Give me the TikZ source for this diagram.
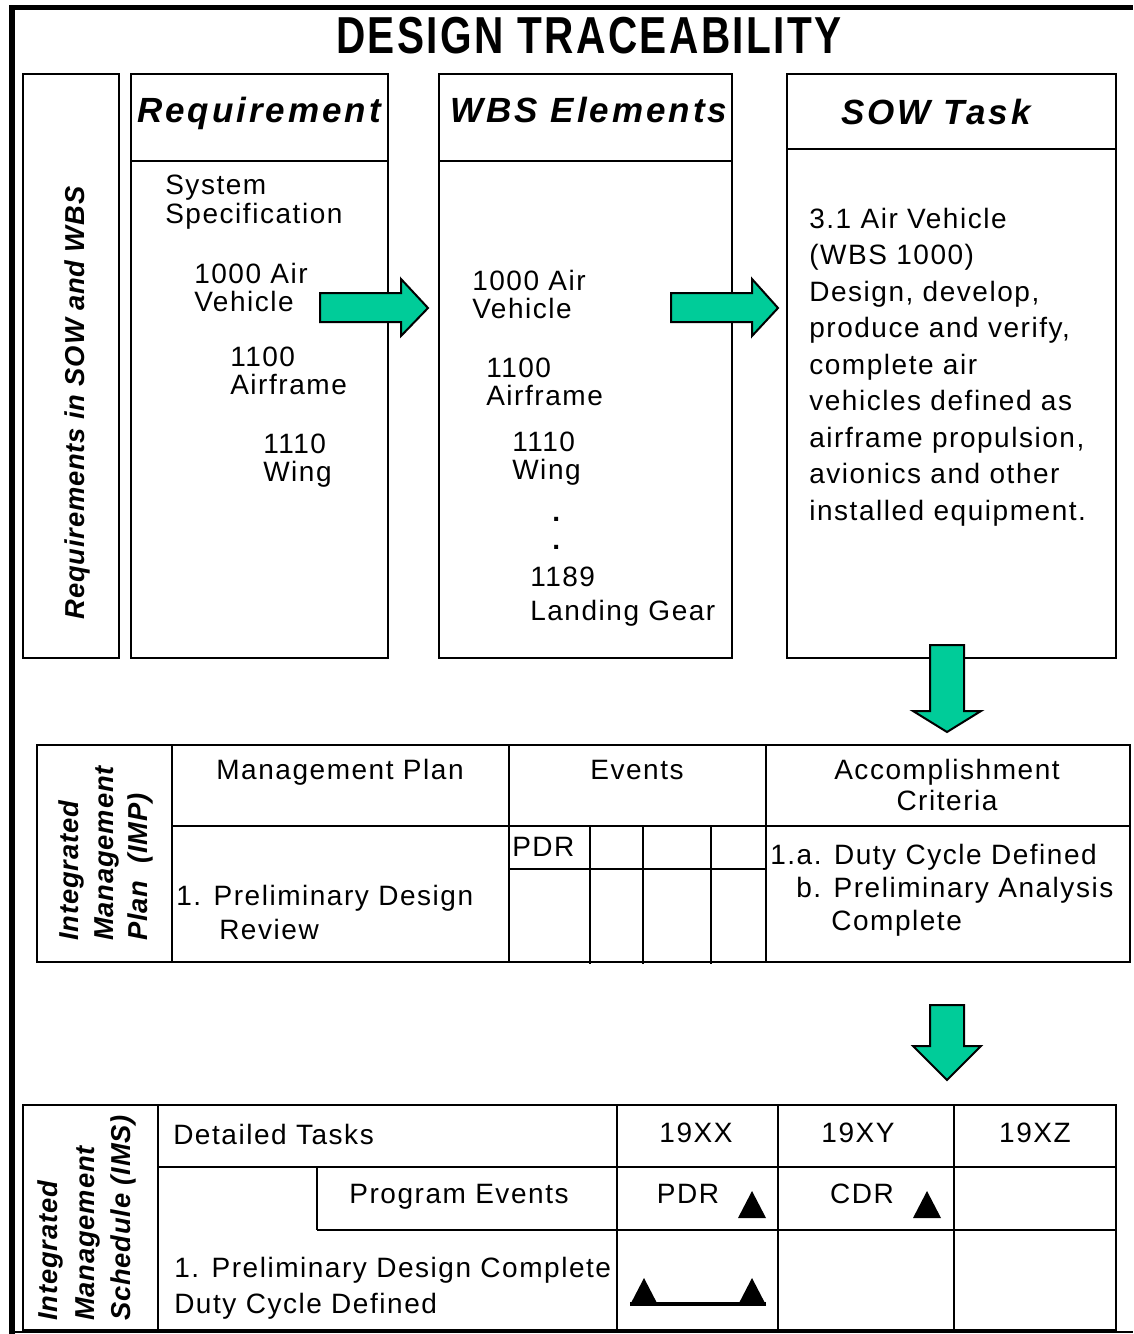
\documentclass[tikz,border=0pt]{standalone}
\usepackage{fontspec}
\usepackage{graphicx}
\setmainfont{Liberation Sans}
\newfontfamily\bodyf[LetterSpace=5.5]{Liberation Sans}
\newfontfamily\headf[LetterSpace=8.5]{Liberation Sans}
\newfontfamily\labf[LetterSpace=3]{Liberation Sans}
\newfontfamily\titlef[LetterSpace=6]{Liberation Sans}
\definecolor{arrgreen}{RGB}{0,204,153}
\begin{document}
\begin{tikzpicture}[x=0.75pt,y=-0.75pt,
  cell/.style={draw,line width=1.2pt},
  thickrow/.style={line width=2.2pt},
  blockarrow/.style={draw,fill=arrgreen,line width=1.5pt,line join=miter},
  milestone/.style={fill=black},
  txt/.style={font=\bodyf\fontsize{21}{25}\selectfont,inner sep=0pt,anchor=base west},
  txtc/.style={txt,anchor=base},
  head/.style={font=\headf\bfseries\itshape\fontsize{26.25}{30}\selectfont,inner sep=0pt,anchor=base},
  lab/.style={font=\labf\bfseries\itshape\fontsize{20.5}{26}\selectfont,inner sep=0pt,rotate=90,align=left}]
\useasboundingbox (0,0) rectangle (1133,1334);
\fill[white] (0,0) rectangle (1133,1334);

% outer frame
\fill (9,5) rectangle (1133,10);
\fill (9,5) rectangle (15,1334);
\draw[line width=1.5pt] (9,1332) -- (1133,1332);

% title
\node[font=\titlef\bfseries\fontsize{39}{44}\selectfont,inner sep=0pt,anchor=base] (title) at (589,54) {\scalebox{0.78}[1]{DESIGN TRACEABILITY}};

% top boxes
\draw[cell] (23,74) rectangle (119,658);
\draw[cell] (131,74) rectangle (388,658);
\draw[cell] (131,161) -- (388,161);
\draw[cell] (439,74) rectangle (732,658);
\draw[cell] (439,161) -- (732,161);
\draw[cell] (787,74) rectangle (1116,658);
\draw[cell] (787,149) -- (1116,149);

\node[lab,anchor=center] (reqlabel) at (77,403) {Requirements in SOW and WBS};

\node[head] (hreq) at (259,123) {Requirement};
\node[head] (hwbs) at (589,123) {WBS Elements};
\node[head] (hsow) at (936,125) {SOW Task};

% requirement column
\node[txt] (r1) at (165,195) {System};
\node[txt] (r2) at (165,223) {Specification};
\node[txt] (r3) at (194,283) {1000 Air};
\node[txt] (r4) at (194,311) {Vehicle};
\node[txt] (r5) at (230,366) {1100};
\node[txt] (r6) at (230,394) {Airframe};
\node[txt] (r7) at (263,453) {1110};
\node[txt] (r8) at (263,481) {Wing};

% WBS column
\node[txt] (w1) at (472,290) {1000 Air};
\node[txt] (w2) at (472,318) {Vehicle};
\node[txt] (w3) at (486,377) {1100};
\node[txt] (w4) at (486,405) {Airframe};
\node[txt] (w5) at (512,451) {1110};
\node[txt] (w6) at (512,479) {Wing};
\node[txt,font=\bodyf\bfseries\fontsize{21}{25}\selectfont] (w7) at (552,521) {.};
\node[txt,font=\bodyf\bfseries\fontsize{21}{25}\selectfont] (w8) at (552,549) {.};
\node[txt] (w9) at (530,586) {1189};
\node[txt] (w10) at (530,620) {Landing Gear};

% SOW column
\node[txt] (s1) at (809,228) {3.1 Air Vehicle};
\node[txt] (s2) at (809,264) {(WBS 1000)};
\node[txt] (s3) at (809,301) {Design, develop,};
\node[txt] (s4) at (809,337) {produce and verify,};
\node[txt] (s5) at (809,374) {complete air};
\node[txt] (s6) at (809,410) {vehicles defined as};
\node[txt] (s7) at (809,447) {airframe propulsion,};
\node[txt] (s8) at (809,483) {avionics and other};
\node[txt] (s9) at (809,520) {installed equipment.};

% block arrows
\draw[blockarrow] (320,293) -- (401,293) -- (401,279) -- (428,308) -- (401,336) -- (401,322) -- (320,322) -- cycle;
\draw[blockarrow] (671,293) -- (752,293) -- (752,279) -- (778,308) -- (752,336) -- (752,322) -- (671,322) -- cycle;
\draw[blockarrow] (930,645) -- (964,645) -- (964,711) -- (981,711) -- (947,732) -- (913,711) -- (930,711) -- cycle;
\draw[blockarrow] (930,1005) -- (964,1005) -- (964,1046) -- (981,1046) -- (947,1080) -- (913,1046) -- (930,1046) -- cycle;

% IMP table
\draw[cell] (37,745) rectangle (1130,962);
\draw[cell] (172,745) -- (172,962);
\draw[cell] (509,745) -- (509,962);
\draw[cell] (766,745) -- (766,962);
\draw[thickrow] (172,826) -- (1130,826);
\draw[cell] (509,869) -- (766,869);
\draw[cell] (590,826) -- (590,964);
\draw[cell] (643,826) -- (643,964);
\draw[cell] (711,826) -- (711,964);

\node[lab,anchor=west,font=\labf\bfseries\itshape\fontsize{20.5}{25.9}\selectfont] (implabel) at (106,941) {Integrated\\Management\\Plan\ \ (IMP)};

\node[txtc] (mp) at (340,779) {Management Plan};
\node[txtc] (ev) at (637,779) {Events};
\node[txtc] (ac1) at (947,779) {Accomplishment};
\node[txtc] (ac2) at (947,810) {Criteria};
\node[txt] (pdr1) at (512,856) {PDR};
\node[txt] (pd1) at (176,905) {1. Preliminary Design};
\node[txt] (pd2) at (219,939) {Review};
\node[txt] (c1) at (770,864) {1.a. Duty Cycle Defined};
\node[txt] (c2) at (796,897) {b. Preliminary Analysis};
\node[txt] (c3) at (831,930) {Complete};

% IMS table
\draw[cell] (23,1105) rectangle (1116,1330);
\draw[cell] (158,1105) -- (158,1330);
\draw[cell] (617,1105) -- (617,1330);
\draw[cell] (778,1105) -- (778,1330);
\draw[cell] (954,1105) -- (954,1330);
\draw[thickrow] (158,1167) -- (1116,1167);
\draw[cell] (317,1230) -- (1116,1230);
\draw[cell] (317,1167) -- (317,1230);

\node[lab,anchor=west,font=\labf\bfseries\itshape\fontsize{20.5}{27.4}\selectfont] (imslabel) at (87,1321) {Integrated\\Management\\Schedule (IMS)};

\node[txt] (dt) at (173,1144) {Detailed Tasks};
\node[txtc] (y1) at (696,1142) {19XX};
\node[txtc] (y2) at (858,1142) {19XY};
\node[txtc] (y3) at (1035,1142) {19XZ};
\node[txtc] (pe) at (459,1203) {Program Events};
\node[txtc] (pdr2) at (688,1203) {PDR};
\node[txtc] (cdr) at (862,1203) {CDR};
\node[txt] (pdc1) at (174,1277) {1. Preliminary Design Complete};
\node[txt] (pdc2) at (174,1313) {Duty Cycle Defined};

% milestones
\fill[milestone] (738,1218) -- (766,1218) -- (752,1191) -- cycle;
\fill[milestone] (913,1218) -- (941,1218) -- (927,1191) -- cycle;
\fill[milestone] (630,1305) -- (658,1305) -- (644,1278) -- cycle;
\fill[milestone] (738,1305) -- (766,1305) -- (752,1278) -- cycle;
\draw[line width=3pt] (630,1304) -- (766,1304);
\end{tikzpicture}
\end{document}
